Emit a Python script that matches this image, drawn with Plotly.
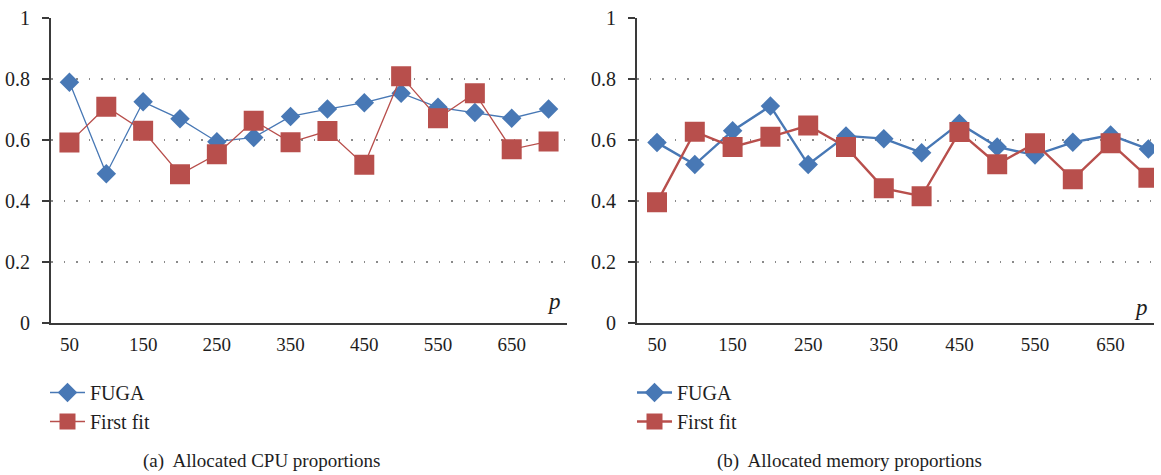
import plotly.graph_objects as go

p_values = [50, 100, 150, 200, 250, 300, 350, 400, 450, 500, 550, 600, 650, 700]
tick_labels = [50, 150, 250, 350, 450, 550, 650]
y_ticks = [0, 0.2, 0.4, 0.6, 0.8, 1]
y_tick_text = ["0", "0.2", "0.4", "0.6", "0.8", "1"]

cpu_fuga = [0.79, 0.49, 0.726, 0.67, 0.595, 0.609, 0.678, 0.702, 0.723, 0.754, 0.708, 0.691, 0.672, 0.702]
cpu_firstfit = [0.592, 0.71, 0.631, 0.488, 0.554, 0.664, 0.593, 0.63, 0.519, 0.81, 0.672, 0.754, 0.57, 0.596]

mem_fuga = [0.592, 0.52, 0.631, 0.712, 0.52, 0.614, 0.605, 0.559, 0.655, 0.578, 0.551, 0.593, 0.617, 0.571]
mem_firstfit = [0.396, 0.628, 0.578, 0.611, 0.648, 0.578, 0.442, 0.416, 0.627, 0.521, 0.59, 0.472, 0.59, 0.477]

series_names = ["FUGA", "First fit"]
captions = ["(a)  Allocated CPU proportions", "(b)  Allocated memory proportions"]

BLUE = "#4878b5"
RED = "#b84f4c"
AXIS = "#3a3a3a"
TXT = "#1e1e1e"
FONT = "Liberation Serif"
W, H = 1161, 475

fig = go.Figure()

def add_pair(fuga, ff, xa, ya, lw, leg):
    fig.add_trace(go.Scatter(
        x=p_values, y=fuga, name=series_names[0], mode="lines+markers",
        xaxis=xa, yaxis=ya, legend=leg,
        line=dict(color=BLUE, width=lw),
        marker=dict(symbol="diamond", size=15, color=BLUE)))
    fig.add_trace(go.Scatter(
        x=p_values, y=ff, name=series_names[1], mode="lines+markers",
        xaxis=xa, yaxis=ya, legend=leg,
        line=dict(color=RED, width=lw),
        marker=dict(symbol="square", size=20, color=RED)))

add_pair(cpu_fuga, cpu_firstfit, "x", "y", 1.3, "legend")
add_pair(mem_fuga, mem_firstfit, "x2", "y2", 2.4, "legend2")

def xaxis(domain, rng, anchor):
    return dict(domain=domain, range=rng, anchor=anchor, automargin=False,
                tickmode="array", tickvals=tick_labels,
                ticktext=[str(t) for t in tick_labels],
                showgrid=False, zeroline=False, showline=True,
                linecolor=AXIS, linewidth=2, ticks="",
                ticklabelstandoff=3,
                tickfont=dict(family=FONT, size=19, color=TXT))

def yaxis(domain, anchor):
    return dict(domain=domain, range=[0, 1], anchor=anchor, automargin=False,
                tickmode="array", tickvals=y_ticks, ticktext=y_tick_text,
                showgrid=True, gridcolor="#8a8a8a", gridwidth=1.6,
                griddash="1.6px,10.9px",
                zeroline=False, showline=True, linecolor=AXIS, linewidth=2,
                ticks="outside", ticklen=7, tickwidth=1.5, tickcolor=AXIS,
                ticklabelstandoff=8,
                tickfont=dict(family=FONT, size=20, color=TXT))

ydom = [1 - 323 / H, 1 - 18.3 / H]
left_dom = [51 / W, 567 / W]
right_dom = [637 / W, 1154 / W]
right_ppu = 37.8 / 50
right_range = [50 - (657 - 637) / right_ppu, 50 + (1154 - 657) / right_ppu]

leg_common = dict(font=dict(family=FONT, size=20, color=TXT),
                  bgcolor="rgba(0,0,0,0)", xanchor="left", yanchor="top",
                  itemwidth=35, tracegroupgap=0)

fig.update_layout(
    width=W, height=H, autosize=False,
    margin=dict(l=0, r=0, t=0, b=0),
    paper_bgcolor="white", plot_bgcolor="white",
    xaxis=xaxis(left_dom, [25, 725], "y"),
    yaxis=yaxis(ydom, "x"),
    xaxis2=xaxis(right_dom, right_range, "y2"),
    yaxis2=yaxis(ydom, "x2"),
    legend=dict(x=45 / W, y=1 - 373 / H, **leg_common),
    legend2=dict(x=632 / W, y=1 - 373 / H, **leg_common),
    showlegend=True,
    annotations=[
        dict(text="<i>p</i>", x=554 / W, y=1 - 301 / H, xref="paper", yref="paper",
             showarrow=False, font=dict(family=FONT, size=23, color=TXT),
             xanchor="center", yanchor="middle"),
        dict(text="<i>p</i>", x=1141 / W, y=1 - 307 / H, xref="paper", yref="paper",
             showarrow=False, font=dict(family=FONT, size=23, color=TXT),
             xanchor="center", yanchor="middle"),
        dict(text=captions[0], x=261 / W, y=1 - 461 / H, xref="paper", yref="paper",
             showarrow=False, font=dict(family=FONT, size=19, color=TXT),
             xanchor="center", yanchor="middle"),
        dict(text=captions[1], x=849 / W, y=1 - 461 / H, xref="paper", yref="paper",
             showarrow=False, font=dict(family=FONT, size=19, color=TXT),
             xanchor="center", yanchor="middle"),
    ],
)

fig.write_html("out.html")
